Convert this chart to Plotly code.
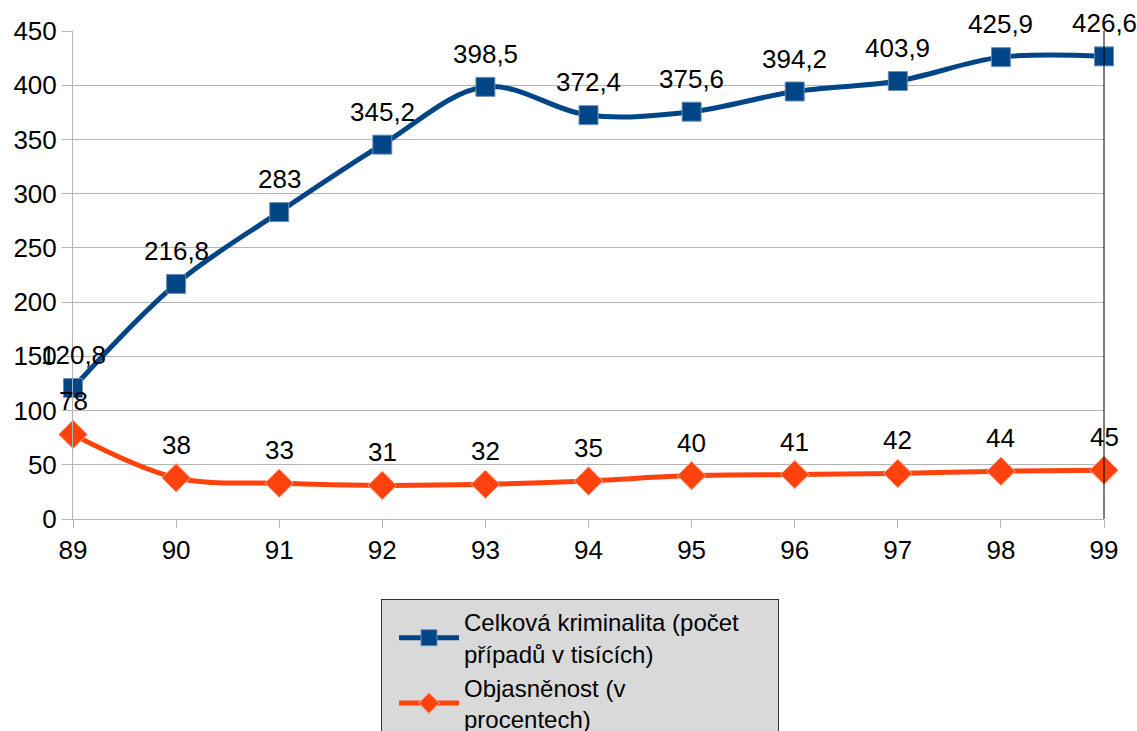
import plotly.graph_objects as go

years = ["89", "90", "91", "92", "93", "94", "95", "96", "97", "98", "99"]
crime = [120.8, 216.8, 283, 345.2, 398.5, 372.4, 375.6, 394.2, 403.9, 425.9, 426.6]
clearance = [78, 38, 33, 31, 32, 35, 40, 41, 42, 44, 45]
name_crime = "Celková kriminalita (počet\u00a0\u00a0\u00a0\u00a0\u00a0<br>případů v tisících)"
name_clear = "Objasněnost (v<br>procentech)"
y_ticks = [0, 50, 100, 150, 200, 250, 300, 350, 400, 450]


def fmt(v):
    s = ("%g" % v)
    return s.replace(".", ",")


FONT = "Liberation Sans, Arial, sans-serif"
FS = 26
W, H = 1137, 731

fig = go.Figure()
fig.add_trace(go.Scatter(
    x=years, y=crime, name=name_crime, mode="lines+markers",
    line=dict(color="#004586", width=5, shape="spline", smoothing=1.0),
    marker=dict(symbol="square", size=19, color="#004586",
                line=dict(color="#6f8fb8", width=1)),
    cliponaxis=False,
))
fig.add_trace(go.Scatter(
    x=years, y=clearance, name=name_clear, mode="lines+markers",
    line=dict(color="#ff420e", width=5, shape="spline", smoothing=1.0),
    marker=dict(symbol="diamond", size=22, color="#ff420e",
                line=dict(color="#ffb09a", width=1)),
    cliponaxis=False,
))

for series in (crime, clearance):
    for i, v in enumerate(series):
        fig.add_annotation(x=i, y=v, text=fmt(v), showarrow=False,
                           yshift=33, yanchor="middle", xanchor="center",
                           font=dict(size=FS, family=FONT, color="black"))

fig.add_shape(type="line", xref="x domain", yref="y domain",
              x0=1, x1=1, y0=0, y1=1, line=dict(color="black", width=1))

fig.update_layout(
    width=W, height=H,
    margin=dict(l=73, r=33, t=31, b=212, autoexpand=False),
    paper_bgcolor="white", plot_bgcolor="white",
    font=dict(family=FONT, size=FS, color="black"),
    showlegend=True,
    legend=dict(
        xref="container", yref="container",
        x=381 / W, y=1 - 599 / H, xanchor="left", yanchor="top",
        bgcolor="#d9d9d9", bordercolor="#333333", borderwidth=1,
        font=dict(size=24, family=FONT, color="black"),
        tracegroupgap=0, itemwidth=60, indentation=12,
    ),
    xaxis=dict(
        type="category", range=[0, len(years) - 1],
        showgrid=False, showline=True, linecolor="#b3b3b3", linewidth=1,
        ticks="outside", ticklen=8, tickcolor="#b3b3b3",
        tickfont=dict(size=FS, family=FONT, color="black"),
        zeroline=False,
    ),
    yaxis=dict(
        range=[0, 450], tickvals=y_ticks,
        showgrid=True, gridcolor="#b3b3b3", gridwidth=1,
        showline=True, linecolor="#b3b3b3", linewidth=1,
        ticks="outside", ticklen=10, tickcolor="#b3b3b3",
        tickfont=dict(size=FS, family=FONT, color="black"),
        zeroline=False,
    ),
)

fig.write_html("out.html",
               config={"displayModeBar": False},
               post_script="document.body.style.margin='0';document.body.style.overflow='hidden';")
